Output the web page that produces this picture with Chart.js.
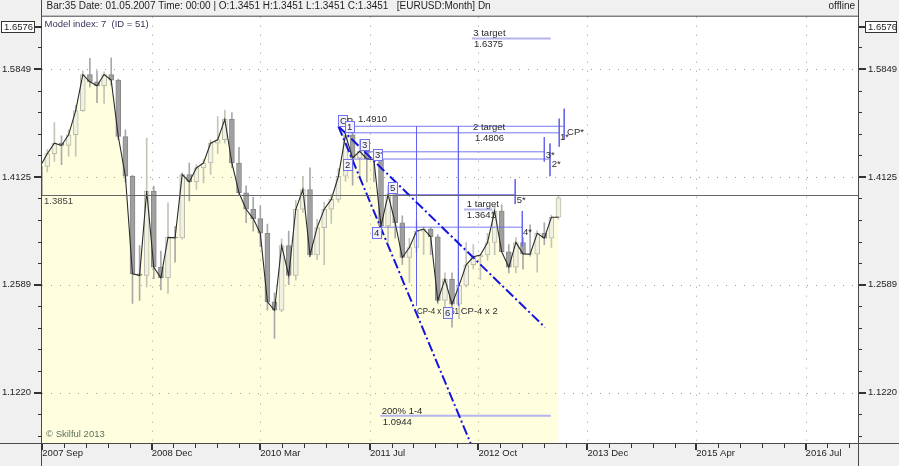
<!DOCTYPE html>
<html>
<head>
<meta charset="utf-8">
<title>EURUSD Month</title>
<script src="https://cdn.jsdelivr.net/npm/chart.js@4.4.1/dist/chart.umd.min.js"></script>
<style>
  html, body { margin: 0; padding: 0; background: #f0f0f0; overflow: hidden; }
  canvas { display: block; }
</style>
</head>
<body>
<canvas id="chart" width="899" height="466"></canvas>
<script>
// monthly bars, the first one sits just outside the left edge
const months = [
  '2007 Sep','2007 Oct','2007 Nov','2007 Dec',
  '2008 Jan','2008 Feb','2008 Mar','2008 Apr','2008 May','2008 Jun','2008 Jul','2008 Aug','2008 Sep','2008 Oct','2008 Nov','2008 Dec',
  '2009 Jan','2009 Feb','2009 Mar','2009 Apr','2009 May','2009 Jun','2009 Jul','2009 Aug','2009 Sep','2009 Oct','2009 Nov','2009 Dec',
  '2010 Jan','2010 Feb','2010 Mar','2010 Apr','2010 May','2010 Jun','2010 Jul','2010 Aug','2010 Sep','2010 Oct','2010 Nov','2010 Dec',
  '2011 Jan','2011 Feb','2011 Mar','2011 Apr','2011 May','2011 Jun','2011 Jul','2011 Aug','2011 Sep','2011 Oct','2011 Nov','2011 Dec',
  '2012 Jan','2012 Feb','2012 Mar','2012 Apr','2012 May','2012 Jun','2012 Jul','2012 Aug','2012 Sep','2012 Oct','2012 Nov','2012 Dec',
  '2013 Jan','2013 Feb','2013 Mar','2013 Apr','2013 May','2013 Jun','2013 Jul','2013 Aug','2013 Sep','2013 Oct'
];
const opens = [
  1.3860, 1.4286, 1.4480, 1.4643,
  1.4608, 1.4775, 1.5160, 1.5757, 1.5635, 1.5569, 1.5757, 1.5663, 1.4748, 1.4135, 1.2737, 1.2714,
  1.3912, 1.2826, 1.2683, 1.3241, 1.3235, 1.4161, 1.4050, 1.4261, 1.4337, 1.4643, 1.4697, 1.5020,
  1.4337, 1.3888, 1.3645, 1.3510, 1.3300, 1.2361, 1.2250, 1.3125, 1.2714, 1.3645, 1.3937, 1.2995,
  1.3381, 1.3645, 1.3790, 1.4135, 1.4775, 1.4413, 1.4516, 1.4400, 1.4388, 1.3405, 1.3860, 1.3450,
  1.2960, 1.3100, 1.3330, 1.3360, 1.3250, 1.2380, 1.2660, 1.2330, 1.2580, 1.2860, 1.2970, 1.2995,
  1.3170, 1.3620, 1.3040, 1.2826, 1.3170, 1.3010, 1.3005, 1.3300, 1.3230, 1.3530
];
const highs = [
  1.4290, 1.4542, 1.4970, 1.4759,
  1.4854, 1.5253, 1.5820, 1.6030, 1.5820, 1.5802, 1.6040, 1.5680, 1.4854, 1.4150, 1.3125, 1.4723,
  1.3987, 1.3050, 1.3741, 1.3400, 1.4185, 1.4337, 1.4312, 1.4388, 1.4697, 1.5065, 1.5172, 1.5130,
  1.4580, 1.3990, 1.3820, 1.3700, 1.3430, 1.2480, 1.3220, 1.3330, 1.3780, 1.4135, 1.4261, 1.3500,
  1.3750, 1.3860, 1.4250, 1.4850, 1.4910, 1.4700, 1.4580, 1.4550, 1.4400, 1.3990, 1.3900, 1.3550,
  1.3230, 1.3480, 1.3390, 1.3380, 1.3280, 1.2750, 1.2750, 1.2620, 1.3170, 1.3140, 1.3010, 1.3300,
  1.3710, 1.3710, 1.3140, 1.3240, 1.3240, 1.3420, 1.3340, 1.3450, 1.3560, 1.3851
];
const lows = [
  1.3800, 1.4200, 1.4362, 1.4312,
  1.4439, 1.4439, 1.5150, 1.5552, 1.5290, 1.5279, 1.5580, 1.4700, 1.4050, 1.2340, 1.2379, 1.2559,
  1.2670, 1.2520, 1.2471, 1.2895, 1.3218, 1.3766, 1.3937, 1.4036, 1.4161, 1.4480, 1.4643, 1.4260,
  1.3860, 1.3450, 1.3330, 1.3110, 1.2250, 1.1886, 1.2231, 1.2590, 1.2650, 1.3600, 1.2970, 1.2930,
  1.2860, 1.3440, 1.3750, 1.4060, 1.4000, 1.4100, 1.4050, 1.4050, 1.3387, 1.3180, 1.3230, 1.2860,
  1.2620, 1.3030, 1.3000, 1.3000, 1.2340, 1.2280, 1.2030, 1.2140, 1.2560, 1.2800, 1.2660, 1.2920,
  1.3000, 1.3040, 1.2750, 1.2750, 1.2800, 1.2980, 1.2760, 1.3140, 1.3100, 1.3500
];
const closes = [
  1.4286, 1.4480, 1.4643, 1.4608,
  1.4775, 1.5160, 1.5757, 1.5635, 1.5569, 1.5757, 1.5663, 1.4748, 1.4135, 1.2737, 1.2714, 1.3912,
  1.2826, 1.2683, 1.3241, 1.3235, 1.4161, 1.4050, 1.4261, 1.4337, 1.4643, 1.4697, 1.5020, 1.4337,
  1.3888, 1.3645, 1.3510, 1.3300, 1.2361, 1.2250, 1.3125, 1.2714, 1.3645, 1.3937, 1.2995, 1.3381,
  1.3645, 1.3790, 1.4135, 1.4775, 1.4413, 1.4516, 1.4400, 1.4388, 1.3405, 1.3860, 1.3450, 1.2960,
  1.3100, 1.3330, 1.3360, 1.3250, 1.2380, 1.2660, 1.2330, 1.2580, 1.2860, 1.2970, 1.2995, 1.3170,
  1.3620, 1.3040, 1.2826, 1.3170, 1.3010, 1.3005, 1.3300, 1.3230, 1.3530, 1.3814
];
const firstBar = -1;

const xTickLabels = ['2007 Sep','2008 Dec','2010 Mar','2011 Jul','2012 Oct','2013 Dec','2015 Apr','2016 Jul'];
const xTickAt = [-0.70, 14.70, 29.99, 45.45, 60.73, 76.08, 91.41, 106.80];
const yTickLabels = ['1.5849','1.4125','1.2589','1.1220'];
const topPrice = 1.6576;
const lastPrice = 1.3851;

// model points (bar, price of the box centre)
const markLabels = ['CP','1','2','3',"3'",'4','5','6'];
const markBar    = [41.54, 42.56, 42.28, 44.61, 46.51, 46.34, 48.58, 56.30];
const markPrice  = [1.5004, 1.4909, 1.4317, 1.4616, 1.4470, 1.3306, 1.3960, 1.2224];

// levels drawn from the model points to their starred ends
const levelFrom  = [41.0, 42.3, 44.6, 42.8, 47.0, 49.2];
const levelTo    = [72.8, 72.1, 70.0, 70.8, 66.9, 65.9];
const levelPrice = [1.4910, 1.4806, 1.4509, 1.4397, 1.3387, 1.3860];

const starBar  = [72.8, 72.1, 70.0, 70.8, 65.9, 66.9];
const starHigh = [1.5192, 1.5032, 1.4738, 1.4638, 1.4092, 1.3621];
const starLow  = [1.4706, 1.4587, 1.4358, 1.4136, 1.3722, 1.3118];

const projBar = [52.0, 57.9];
const projHigh = 1.4910, projLow = 1.2309;

const targetFrom  = [59.8, 58.7, 46.9];
const targetTo    = [70.9, 62.7, 70.9];
const targetPrice = [1.6375, 1.3641, 1.0944];

const channelFrom = [41.0, 1.4910];
const channelEnd  = [[60.6, 1.0441], [70.1, 1.2028]];

const noteText  = ['1.4910','2 target','1.4806','1 target','1.3641','3 target','1.6375','200% 1-4','1.0944',
                   'CP-4 x 1.61','CP-4 x 2','CP*','1*','3*','2*','5*','4*'];
const noteBar   = [43.76, 59.96, 60.24, 59.07, 59.07, 60.0, 60.1, 47.1, 47.24, 52.07, 58.23, 73.2, 72.2, 70.2, 71.04, 66.11, 67.0];
const notePrice = [1.5017, 1.4890, 1.4725, 1.3717, 1.3563, 1.6473, 1.6279, 1.1000, 1.0871, 1.2230, 1.2230,
                   1.4820, 1.4733, 1.4447, 1.4317, 1.3775, 1.3309];

const xMin = -0.746, xMax = 114.18;
const yMin = 1.0631, yMax = 1.6761;

const FONT = '"Liberation Sans", Arial, sans-serif';
Chart.defaults.font.family = FONT;

const bars = months.map((m, k) => k + firstBar);
const isBull = k => closes[k] >= opens[k];
// model line: completed closes, the running bar repeats the last one
const lineVals = closes.slice(0, -1).concat(closes[closes.length - 2]);
const linePts = bars.map((x, k) => ({ x, y: lineVals[k] }));

function seg(x0, y0, x1, y1, color, width, dash, order) {
  return {
    type: 'line',
    data: [{ x: x0, y: y0 }, { x: x1, y: y1 }],
    borderColor: color, borderWidth: width, borderDash: dash || [],
    pointRadius: 0, fill: false, order: order, clip: 0
  };
}

const datasets = [
  {
    type: 'line', data: linePts, fill: 'start',
    backgroundColor: 'rgba(255,255,0,0.12)', borderWidth: 0, pointRadius: 0, order: 10, clip: 0
  },
  {
    type: 'bar', data: bars.map((x, k) => ({ x, y: [lows[k], highs[k]] })),
    barThickness: 1, grouped: false, borderWidth: 0,
    backgroundColor: ctx => isBull(ctx.dataIndex) ? '#c4c4b8' : '#a9a9a9', order: 9, clip: 0
  },
  {
    type: 'bar', data: bars.map((x, k) => ({ x, y: [opens[k], closes[k]] })),
    barThickness: 5, grouped: false, borderWidth: 1, borderSkipped: false,
    backgroundColor: ctx => isBull(ctx.dataIndex) ? '#f1f1e3' : '#a0a0a0',
    borderColor: ctx => isBull(ctx.dataIndex) ? '#b9b9a9' : '#878787', order: 8, clip: 0
  },
  {
    type: 'line', data: linePts, borderColor: '#2b2b2b', borderWidth: 1.1,
    pointRadius: 0, fill: false, order: 3, clip: 0
  }
];

levelPrice.forEach((p, i) => datasets.push(seg(levelFrom[i], p, levelTo[i], p, 'rgba(96,96,238,0.85)', 1, null, 2)));
projBar.forEach(b => datasets.push(seg(b, projHigh, b, projLow, 'rgba(96,96,238,0.85)', 1, null, 2)));
starBar.forEach((b, i) => datasets.push(seg(b, starHigh[i], b, starLow[i], 'rgba(96,96,238,0.85)', 1, null, 2)));
targetPrice.forEach((p, i) => datasets.push(seg(targetFrom[i], p, targetTo[i], p, '#b4b4ee', 2, null, 2)));
channelEnd.forEach(e => datasets.push(seg(channelFrom[0], channelFrom[1], e[0], e[1], '#1414e0', 2, [10, 3, 2, 3], 1)));

const skin = {
  id: 'skin',
  beforeDraw(chart) {
    const { ctx, chartArea: a } = chart;
    ctx.save();
    ctx.fillStyle = '#f0f0f0';
    ctx.fillRect(0, 0, chart.width, chart.height);
    ctx.fillStyle = '#ffffff';
    ctx.fillRect(a.left, a.top, a.right - a.left, a.bottom - a.top);
    ctx.restore();
  },
  beforeDatasetsDraw(chart) {
    const { ctx, chartArea: a, scales: { x, y } } = chart;
    ctx.save();
    ctx.strokeStyle = '#9a9a9a';
    ctx.lineWidth = 1;
    ctx.setLineDash([1, 8]);
    yTickLabels.forEach(t => {
      const py = Math.round(y.getPixelForValue(parseFloat(t))) + 0.5;
      ctx.beginPath(); ctx.moveTo(a.left, py); ctx.lineTo(a.right, py); ctx.stroke();
    });
    xTickAt.slice(1).forEach(v => {
      const px = Math.round(x.getPixelForValue(v)) + 0.5;
      ctx.beginPath(); ctx.moveTo(px, a.top); ctx.lineTo(px, a.bottom); ctx.stroke();
    });
    ctx.restore();
  },
  afterDatasetsDraw(chart) {
    const { ctx, chartArea: a, scales: { x, y } } = chart;
    ctx.save();
    // last price line
    const lp = Math.round(y.getPixelForValue(lastPrice)) + 0.5;
    ctx.strokeStyle = '#666666';
    ctx.lineWidth = 1.2;
    ctx.beginPath(); ctx.moveTo(a.left, lp); ctx.lineTo(a.right, lp); ctx.stroke();
    ctx.font = '9.5px ' + FONT;
    ctx.textBaseline = 'middle';
    ctx.textAlign = 'left';
    ctx.fillStyle = '#444444';
    ctx.fillText(lastPrice.toFixed(4), a.left + 2, lp + 5.5);

    // notes
    ctx.fillStyle = '#2a2a2a';
    noteText.forEach((t, i) => {
      const px = x.getPixelForValue(noteBar[i]);
      const py = y.getPixelForValue(notePrice[i]);
      if (t === 'CP-4 x 1.61') ctx.fillText(t, px, py, 42);
      else ctx.fillText(t, px, py);
    });

    // model point boxes
    ctx.lineWidth = 1;
    markLabels.forEach((t, i) => {
      const cx = x.getPixelForValue(markBar[i]);
      const cy = y.getPixelForValue(markPrice[i]);
      const w = 9, h = 11;
      const l = Math.round(cx - w / 2) + 0.5, tp = Math.round(cy - h / 2) + 0.5;
      ctx.fillStyle = '#f3f3ff';
      ctx.fillRect(l, tp, w, h);
      ctx.strokeStyle = '#7272ee';
      ctx.strokeRect(l, tp, w, h);
      ctx.fillStyle = '#2a2a2a';
      ctx.fillText(t, l + 1.5, tp + h / 2 + 0.5);
    });
    ctx.restore();
  },
  afterDraw(chart) {
    const { ctx, chartArea: a, scales: { x, y } } = chart;
    const W = chart.width, H = chart.height;
    ctx.save();
    ctx.strokeStyle = '#4a4a4a';
    ctx.lineWidth = 1;
    const ln = (x0, y0, x1, y1) => { ctx.beginPath(); ctx.moveTo(x0, y0); ctx.lineTo(x1, y1); ctx.stroke(); };
    ln(a.left - 0.5, 0, a.left - 0.5, H);
    ln(a.right + 0.5, 0, a.right + 0.5, H);
    ln(a.left, a.top - 0.5, a.right, a.top - 0.5);
    ln(0, a.bottom + 0.5, W, a.bottom + 0.5);

    // price ticks, 5 steps between labelled levels
    ctx.fillStyle = '#333333';
    const logs = yTickLabels.map(t => Math.log10(parseFloat(t)));
    const base = logs[logs.length - 1];
    const step = (logs[0] - logs[1]) / 5;
    const topPx = y.getPixelForValue(topPrice);
    for (let j = -10; j <= 40; j++) {
      const lv = base + j * step;
      if (lv < Math.log10(yMin) || lv > Math.log10(yMax)) continue;
      const py = Math.round(y.getPixelForValue(Math.pow(10, lv)));
      const major = j % 5 === 0 && j >= 0 && j < logs.length * 5;
      if (!major && Math.abs(py - topPx) < 3) continue;
      if (major) {
        ctx.fillRect(a.left - 8, py - 1, 8, 2);
        ctx.fillRect(a.right + 1, py - 1, 7, 2);
      } else {
        ctx.fillRect(a.left - 4, py, 4, 1);
        ctx.fillRect(a.right + 1, py, 3, 1);
      }
    }
    // time ticks
    const xs = [];
    xTickAt.forEach((v, i) => {
      const next = i < xTickAt.length - 1 ? xTickAt[i + 1] : v + (v - xTickAt[i - 1]);
      for (let j = 0; j < 5; j++) xs.push([v + (next - v) * j / 5, j === 0]);
    });
    xs.forEach(([v, major]) => {
      if (v > xMax) return;
      const px = Math.round(x.getPixelForValue(v));
      if (major) ctx.fillRect(px - 1, a.bottom + 1, 2, 6);
      else ctx.fillRect(px, a.bottom + 1, 1, 4);
    });

    // top price boxes
    const ty = Math.round(topPx);
    ctx.fillRect(a.left - 8, ty - 1, 8, 2);
    ctx.fillRect(a.right + 1, ty - 1, 7, 2);
    ctx.font = '9.5px ' + FONT;
    ctx.textBaseline = 'middle';
    ctx.textAlign = 'left';
    [[1.5, 33], [865.5, 31]].forEach(([bx, bw]) => {
      ctx.fillStyle = '#ffffff';
      ctx.fillRect(bx, ty - 5.5, bw, 11);
      ctx.strokeStyle = '#333333';
      ctx.strokeRect(bx, ty - 5.5, bw, 11);
      ctx.fillStyle = '#1e1e1e';
      ctx.fillText(topPrice.toFixed(4), bx + 2.5, ty + 0.5);
    });

    // header and captions
    ctx.font = '10px ' + FONT;
    ctx.fillStyle = '#1e1e1e';
    ctx.fillText('Bar:35 Date: 01.05.2007 Time: 00:00 | O:1.3451 H:1.3451 L:1.3451 C:1.3451   [EURUSD:Month] Dn', 46.5, 6.5);
    ctx.textAlign = 'right';
    ctx.fillText('offline', 855, 6.5);
    ctx.textAlign = 'left';
    ctx.font = '9.5px ' + FONT;
    ctx.fillStyle = '#3a3058';
    ctx.fillText('Model index: 7  (ID = 51)', a.left + 2.5, a.top + 7.5);
    ctx.fillStyle = '#5e705e';
    ctx.fillText('\u00A9 Skilful 2013', a.left + 4, a.bottom - 9);
    ctx.restore();
  }
};

const tickFont = { family: FONT, size: 9.5 };

new Chart(document.getElementById('chart'), {
  type: 'bar',
  data: { datasets },
  options: {
    responsive: false,
    animation: false,
    devicePixelRatio: 1,
    events: [],
    layout: { padding: { top: 14 } },
    plugins: { legend: { display: false }, tooltip: { enabled: false } },
    scales: {
      x: {
        type: 'linear', min: xMin, max: xMax, offset: false, bounds: 'data',
        grid: { display: false, drawTicks: false }, border: { display: false },
        afterBuildTicks: s => { s.ticks = xTickAt.map(v => ({ value: v })); },
        afterFit: s => { s.height = 23; },
        ticks: {
          autoSkip: false, maxRotation: 0, align: 'start', padding: 5,
          color: '#1e1e1e', font: tickFont, callback: (v, i) => xTickLabels[i]
        }
      },
      y: {
        type: 'logarithmic', position: 'left', min: yMin, max: yMax, bounds: 'data',
        grid: { display: false, drawTicks: false }, border: { display: false },
        afterBuildTicks: s => { s.ticks = yTickLabels.map(t => ({ value: parseFloat(t) })); },
        afterFit: s => { s.width = 42; },
        ticks: { autoSkip: false, padding: 11, color: '#1e1e1e', font: tickFont, callback: (v, i) => yTickLabels[i] }
      },
      y2: {
        type: 'logarithmic', position: 'right', min: yMin, max: yMax, bounds: 'data',
        grid: { display: false, drawTicks: false }, border: { display: false },
        afterBuildTicks: s => { s.ticks = yTickLabels.map(t => ({ value: parseFloat(t) })); },
        afterFit: s => { s.width = 41; },
        ticks: { autoSkip: false, padding: 10, color: '#1e1e1e', font: tickFont, callback: (v, i) => yTickLabels[i] }
      }
    }
  },
  plugins: [skin]
});
</script>
</body>
</html>
